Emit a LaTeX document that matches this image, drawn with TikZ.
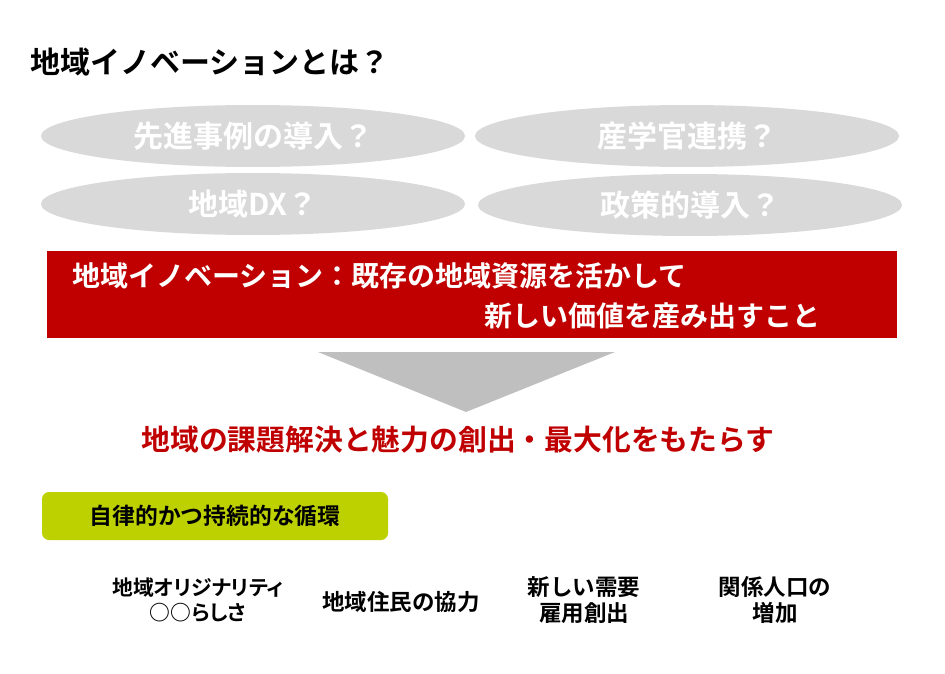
\documentclass[tikz,border=0pt]{standalone}
\usepackage{fontspec}
\setmainfont{Noto Sans CJK JP}[BoldFont={Noto Sans CJK JP Bold}]
\usetikzlibrary{shapes.geometric}
\definecolor{dred}{HTML}{C00000}
\definecolor{egray}{HTML}{D9D9D9}
\definecolor{tgray}{HTML}{BFBFBF}
\definecolor{lime}{HTML}{BDD100}
\tikzset{
  oval/.style={ellipse, fill=egray, minimum width=424pt, minimum height=62pt, inner sep=0pt,
    text=white, font=\bfseries\fontsize{30}{32}\selectfont},
  lbl/.style={align=center, font=\bfseries\fontsize{22.5}{25.5}\selectfont, text=black},
}
\begin{document}
\begin{tikzpicture}[x=1pt,y=-1pt]
\useasboundingbox (0,0) rectangle (945,674);
\fill[white] (0,0) rectangle (945,674);
\node[anchor=west, inner sep=0pt, font=\bfseries\fontsize{30}{32}\selectfont] (title) at (30,62) {地域イノベーションとは？};
\node[oval] (e1) at (253,136) {先進事例の導入？};
\node[oval] (e2) at (687,136) {産学官連携？};
\node[oval] (e3) at (253,204) {地域DX？};
\node[oval] (e4) at (690,205) {政策的導入？};
\node[fill=dred, minimum width=850pt, minimum height=87pt, inner sep=0pt] (box) at (472,294.5) {};
\node[anchor=west, inner sep=0pt, text=white, font=\bfseries\fontsize{28}{30}\selectfont] (l1) at (72,276) {地域イノベーション：既存の地域資源を活かして};
\node[anchor=west, inner sep=0pt, text=white, font=\bfseries\fontsize{28}{30}\selectfont] (l2) at (484,316) {新しい価値を産み出すこと};
\fill[tgray] (318,352) -- (615,352) -- (466,412) -- cycle;
\node[text=dred, inner sep=0pt, font=\bfseries\fontsize{28.8}{30}\selectfont] (res) at (458,440) {地域の課題解決と魅力の創出・最大化をもたらす};
\node[fill=lime, rounded corners=7pt, minimum width=346pt, minimum height=48pt, inner sep=0pt,
  font=\bfseries\fontsize{22.8}{24}\selectfont] (cyc) at (215,516) {自律的かつ持続的な循環};
\node[lbl, font=\bfseries\fontsize{20.8}{25.5}\selectfont\addfontfeatures{RawFeature=+palt}] (b1) at (198,600) {地域オリジナリティ\\○○らしさ};
\node[lbl] (b2) at (401,602) {地域住民の協力};
\node[lbl] (b3) at (584,600) {新しい需要\\雇用創出};
\node[lbl] (b4) at (775,600) {関係人口の\\増加};
\end{tikzpicture}
\end{document}
